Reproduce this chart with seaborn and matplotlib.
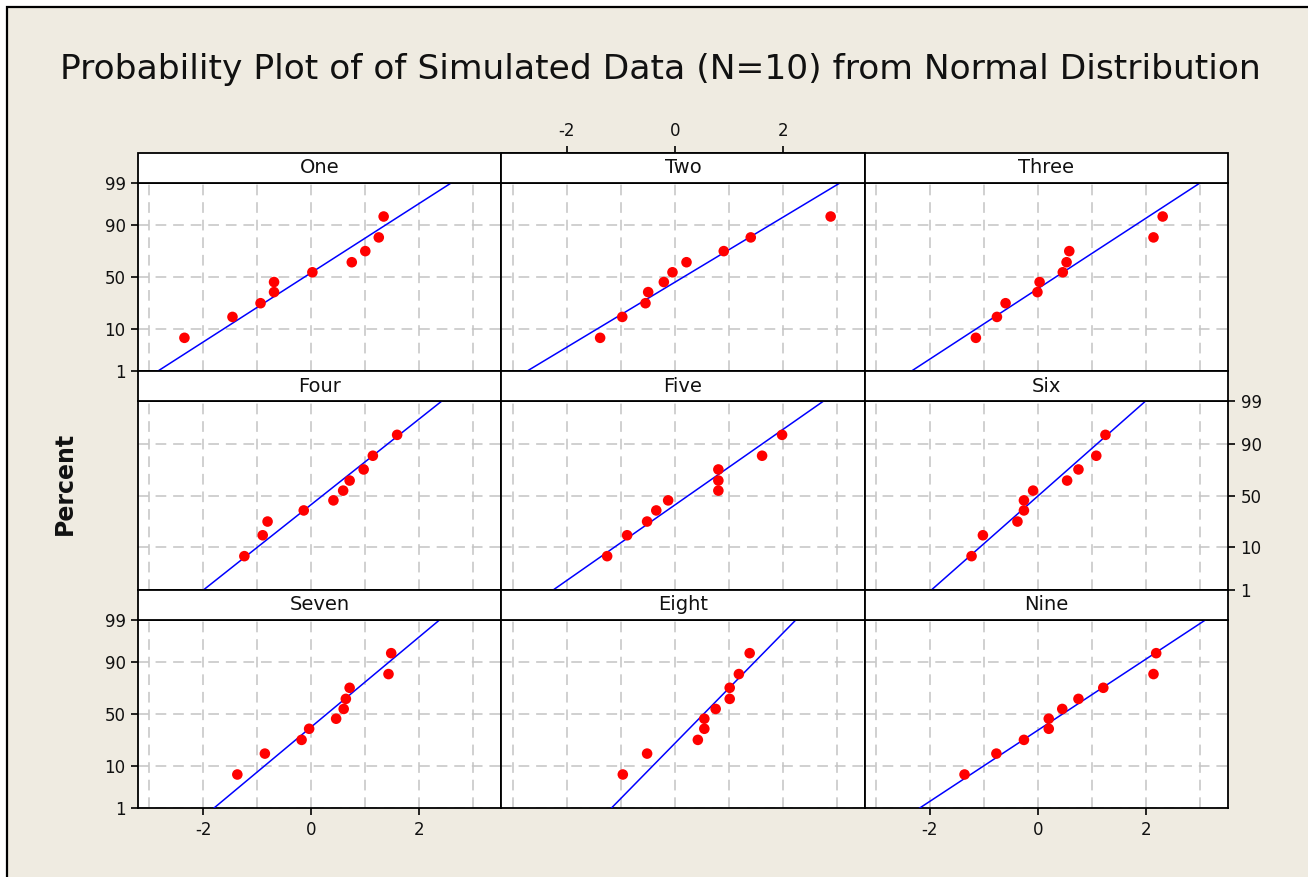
import numpy as np
import pandas as pd
import seaborn as sns
import matplotlib.pyplot as plt
from matplotlib.patches import Rectangle
from matplotlib.ticker import FixedLocator, NullLocator
from statistics import NormalDist

# sorted simulated values for each panel
panels = ['One', 'Two', 'Three', 'Four', 'Five', 'Six', 'Seven', 'Eight', 'Nine']
one = [-2.35, -1.46, -0.94, -0.69, -0.69, 0.02, 0.75, 1.00, 1.25, 1.34]
two = [-1.38, -0.97, -0.54, -0.49, -0.20, -0.04, 0.22, 0.91, 1.41, 2.89]
three = [-1.15, -0.76, -0.60, -0.01, 0.03, 0.46, 0.53, 0.58, 2.14, 2.31]
four = [-1.24, -0.90, -0.81, -0.14, 0.41, 0.59, 0.71, 0.97, 1.14, 1.59]
five = [-1.25, -0.88, -0.51, -0.34, -0.12, 0.81, 0.81, 0.81, 1.62, 1.99]
six = [-1.23, -1.02, -0.38, -0.26, -0.26, -0.09, 0.54, 0.75, 1.08, 1.25]
seven = [-1.37, -0.86, -0.18, -0.04, 0.46, 0.60, 0.64, 0.71, 1.43, 1.48]
eight = [-0.96, -0.51, 0.43, 0.55, 0.55, 0.76, 1.02, 1.02, 1.19, 1.39]
nine = [-1.36, -0.77, -0.26, 0.20, 0.20, 0.45, 0.75, 1.21, 2.14, 2.19]

# plotting positions (percent) of the 10 ranked points
pct = [6.7, 16.3, 26.0, 35.6, 45.2, 54.8, 64.4, 74.0, 83.7, 93.3]

# fitted normal line per panel (mean, std dev)
mu = [-0.13, 0.16, 0.325, 0.21, 0.255, 0.01, 0.29, 0.54, 0.46]
sigma = [1.169, 1.247, 1.15, 0.946, 1.073, 0.85, 0.899, 0.735, 1.139]

yticks = [1, 10, 50, 90, 99]
xticks = [-2, 0, 2]

values = [one, two, three, four, five, six, seven, eight, nine]
df = pd.DataFrame({
    'panel': np.repeat(panels, len(pct)),
    'x': np.concatenate(values),
    'pct': np.tile(pct, len(panels)),
})

nd = NormalDist()
line_pct = [0.5, 99.5]
fit = pd.DataFrame({
    'panel': np.repeat(panels, 2),
    'x': [m + s * nd.inv_cdf(p / 100) for m, s in zip(mu, sigma) for p in line_pct],
    'pct': line_pct * len(panels),
})


def fwd(p):
    p = np.clip(np.asarray(p, dtype=float), 1e-9, 100 - 1e-9)
    return np.vectorize(lambda v: nd.inv_cdf(v / 100), otypes=[float])(p)


def inv(z):
    z = np.asarray(z, dtype=float)
    return np.vectorize(lambda v: nd.cdf(v) * 100, otypes=[float])(z)


sns.set_style('ticks')
plt.rcParams['font.family'] = ['DejaVu Sans']
plt.rcParams['axes.unicode_minus'] = False

W, H = 1308, 877
bg = '#EFEBE1'
ink = '#111111'
fig, axes = plt.subplots(3, 3, figsize=(W / 100, H / 100), dpi=100, sharex=True, sharey=True)
fig.patch.set_facecolor('white')
fig.patches.append(Rectangle((7 / W, -0.1), 1.2, 1.1 - 7 / H, transform=fig.transFigure,
                             facecolor=bg, edgecolor='black', lw=1.6, zorder=-10))

plot_h = 188.3
strip_h = 30 / plot_h
fig.subplots_adjust(left=138 / W, right=1228 / W, top=1 - 183 / H, bottom=1 - 808 / H,
                    wspace=0, hspace=strip_h)

for i, (ax, name) in enumerate(zip(axes.flat, panels)):
    r, c = divmod(i, 3)
    ax.set_facecolor('white')
    ax.set_yscale('function', functions=(fwd, inv))
    ax.set_xlim(-3.21, 3.52)
    ax.set_ylim(1, 99)

    sns.lineplot(data=fit[fit.panel == name], x='x', y='pct', ax=ax,
                 color='#0000FF', lw=1.1, zorder=3)
    sns.scatterplot(data=df[df.panel == name], x='x', y='pct', ax=ax,
                    color='#FF0000', s=58, edgecolor='none', zorder=4, legend=False)
    ax.set(xlabel='', ylabel='')

    ax.xaxis.set_major_locator(FixedLocator(xticks))
    ax.xaxis.set_minor_locator(FixedLocator([-3, -1, 1, 3]))
    ax.yaxis.set_major_locator(FixedLocator(yticks))
    ax.yaxis.set_minor_locator(NullLocator())
    ax.set_yticklabels([str(t) for t in yticks])
    ax.grid(True, which='both', axis='x', color='#C4C4C4', lw=1.1, ls=(0, (7, 4.5)))
    ax.grid(True, which='major', axis='y', color='#C4C4C4', lw=1.1, ls=(0, (7, 4.5)))
    ax.set_axisbelow(True)

    for sp in ax.spines.values():
        sp.set_color('black')
        sp.set_linewidth(1.3)
        sp.set_visible(True)

    ax.tick_params(which='minor', length=0)
    ax.tick_params(which='major', length=5, width=1.2, color='black', labelsize=12,
                   labelcolor=ink, pad=4)
    show_bottom = (r == 2 and c != 1)
    ax.tick_params(axis='x', which='major', top=False, labeltop=False,
                   bottom=show_bottom, labelbottom=show_bottom)
    show_left = (c == 0 and r != 1)
    show_right = (c == 2 and r == 1)
    ax.tick_params(axis='y', which='major', left=show_left, labelleft=show_left,
                   right=show_right, labelright=show_right)

    ax.add_patch(Rectangle((0, 1), 1, strip_h, transform=ax.transAxes, clip_on=False,
                           facecolor='white', edgecolor='black', lw=1.3, zorder=5))
    ax.text(0.5, 1 + strip_h / 2, name, transform=ax.transAxes, ha='center', va='center',
            fontsize=14, color=ink, zorder=6)

    # the top scale of the middle column sits above its strip
    if r == 0 and c == 1:
        top = ax.secondary_xaxis(1 + strip_h)
        top.set_xticks(xticks)
        top.tick_params(length=5, width=1.2, color='black', labelsize=12, labelcolor=ink, pad=4)
        top.spines['top'].set_linewidth(1.3)

fig.text(0.505, 1 - 70 / H, 'Probability Plot of of Simulated Data (N=10) from Normal Distribution',
         ha='center', va='center', fontsize=24.8, color=ink)
fig.text(65 / W, 1 - 483 / H, 'Percent', rotation=90, ha='center', va='center',
         fontsize=17, fontweight='bold', color=ink)

plt.savefig('out.png', dpi=100, facecolor=fig.get_facecolor())
